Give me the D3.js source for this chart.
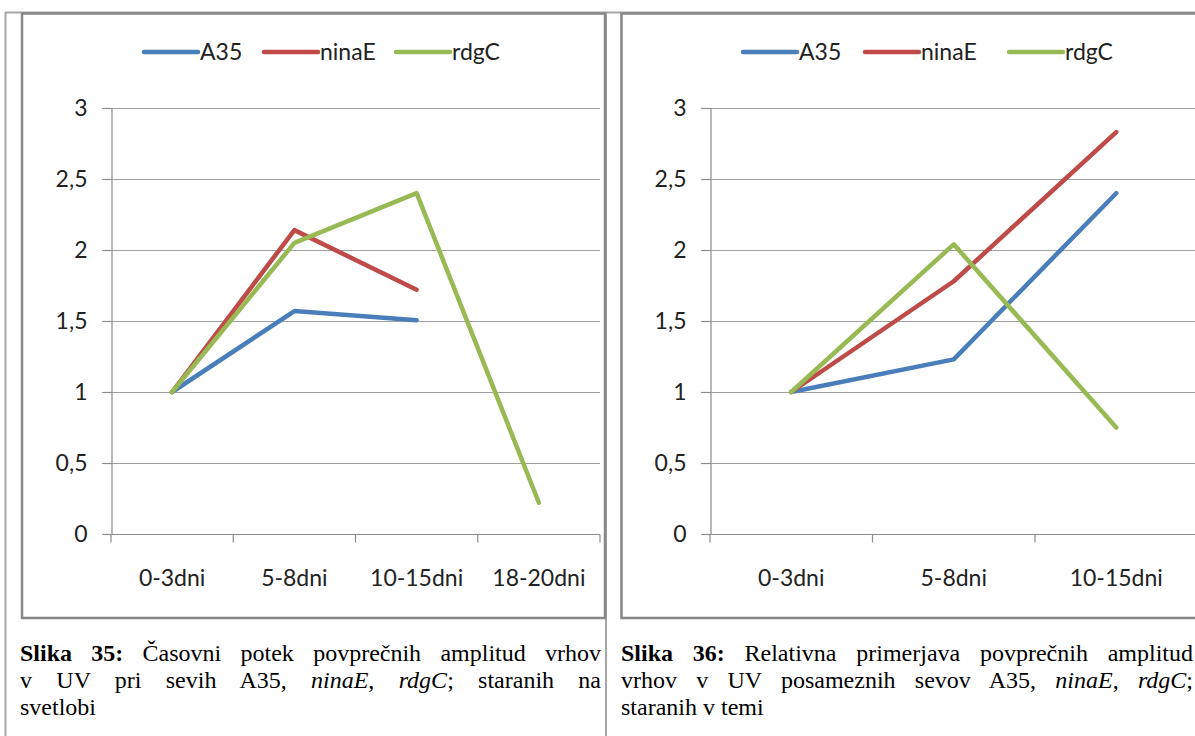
<!DOCTYPE html>
<html>
<head>
<meta charset="utf-8">
<script src="https://cdn.jsdelivr.net/npm/d3@7"></script>
<style>
  html, body { margin: 0; padding: 0; background: #fff; }
  #wrap { position: relative; width: 1195px; height: 736px; overflow: hidden; }
  svg { position: absolute; left: 0; top: 0; }
  .cap { position: absolute; font-family: "Liberation Serif", "Times New Roman", serif;
         font-size: 24px; line-height: 27px; color: #000; }
  .cap div { text-align: justify; text-align-last: justify; white-space: nowrap; }
  .cap div.last { text-align-last: left; }
  .cap b { font-weight: bold; }
</style>
</head>
<body>
<div id="wrap">
  <svg id="chart" width="1195" height="736"></svg>
  <div class="cap" id="cap35" style="left:20px; top:640px; width:581px;">
    <div><b>Slika 35:</b> Časovni potek povprečnih amplitud vrhov</div>
    <div>v UV pri sevih A35, <i>ninaE</i>, <i>rdgC</i>; staranih na</div>
    <div class="last">svetlobi</div>
  </div>
  <div class="cap" id="cap36" style="left:621px; top:640px; width:572px;">
    <div><b>Slika 36:</b> Relativna primerjava povprečnih amplitud</div>
    <div>vrhov v UV posameznih sevov A35, <i>ninaE</i>, <i>rdgC</i>;</div>
    <div class="last">staranih v temi</div>
  </div>
</div>
<script>
// Aging stages (days) and relative UV peak amplitudes per strain
const categoriesLight = ["0-3dni", "5-8dni", "10-15dni", "18-20dni"];
const categoriesDark = ["0-3dni", "5-8dni", "10-15dni"];

const seriesNames = ["A35", "ninaE", "rdgC"];
const seriesColors = ["#4a7ebb", "#be4b48", "#98b954"];

// Slika 35: aged in light
const lightA35 = [1, 1.57, 1.505, null];
const lightNinaE = [1, 2.14, 1.72, null];
const lightRdgC = [1, 2.05, 2.40, 0.22];

// Slika 36: aged in dark
const darkA35 = [1, 1.23, 2.40];
const darkNinaE = [1, 1.78, 2.83];
const darkRdgC = [1, 2.04, 0.75];

const yTicks = [0, 0.5, 1, 1.5, 2, 2.5, 3];
const fmt = v => String(v).replace(".", ",");
const labelFont = "Lato, 'Open Sans', sans-serif";
const labelSize = 23;

const svg = d3.select("#chart");

// Table borders of the surrounding document layout
const frame = svg.append("g");
frame.append("line").attr("x1", 5.5).attr("x2", 5.5).attr("y1", 12).attr("y2", 736)
  .attr("stroke", "#a6a6a6").attr("stroke-width", 2);
frame.append("line").attr("x1", 5).attr("x2", 1195).attr("y1", 12.5).attr("y2", 12.5)
  .attr("stroke", "#a6a6a6").attr("stroke-width", 2);
frame.append("line").attr("x1", 606).attr("x2", 606).attr("y1", 12).attr("y2", 736)
  .attr("stroke", "#a6a6a6").attr("stroke-width", 2);

function drawChart(opts) {
  const g = svg.append("g");
  // chart border
  g.append("rect")
    .attr("x", opts.fx).attr("y", 13.5)
    .attr("width", opts.fw).attr("height", 604.5)
    .attr("fill", "#fff").attr("stroke", "#878787").attr("stroke-width", 2.5);

  const y = d3.scaleLinear().domain([0, 3]).range([534, 108]);
  const band = d3.scaleBand().domain(opts.categories).range([opts.x0, opts.x1]);
  const x = d3.scalePoint().domain(opts.categories).range([opts.x0, opts.x1]).padding(0.5);

  // horizontal gridlines with left tick stubs
  g.append("g").selectAll("line").data(yTicks.filter(t => t > 0)).join("line")
    .attr("x1", opts.x0 - 9).attr("x2", opts.x1)
    .attr("y1", d => Math.round(y(d)) + 0.5).attr("y2", d => Math.round(y(d)) + 0.5)
    .attr("stroke", "#a0a0a0").attr("stroke-width", 1.2);

  // y axis
  const yAxis = d3.axisLeft(y).tickValues(yTicks).tickSize(9).tickPadding(15).tickFormat(fmt);
  const ya = g.append("g").attr("transform", `translate(${opts.x0 + 0.5},0)`).call(yAxis);
  ya.select(".domain").attr("stroke", "#8c8c8c").attr("stroke-width", 1.2);
  ya.selectAll(".tick line").attr("stroke", "#8c8c8c").attr("stroke-width", 1.2);
  ya.selectAll(".tick text").attr("font-family", labelFont)
    .attr("font-size", labelSize).attr("fill", "#222");

  // x axis: line, boundary ticks, category labels
  const yb = Math.round(y(0)) + 0.5;
  g.append("line").attr("x1", opts.x0).attr("x2", opts.x1).attr("y1", yb).attr("y2", yb)
    .attr("stroke", "#8c8c8c").attr("stroke-width", 1.2);
  const bounds = opts.categories.map(c => band(c)).concat([opts.x1]);
  g.append("g").selectAll("line").data(bounds).join("line")
    .attr("x1", d => d).attr("x2", d => d).attr("y1", yb).attr("y2", yb + 8)
    .attr("stroke", "#8c8c8c").attr("stroke-width", 1.2);
  g.append("g").selectAll("text").data(opts.categories).join("text")
    .attr("x", d => x(d)).attr("y", 586)
    .attr("text-anchor", "middle")
    .attr("font-family", labelFont).attr("font-size", labelSize).attr("fill", "#222")
    .text(d => d);

  // series lines
  const line = d3.line()
    .defined(d => d.v !== null)
    .x(d => x(d.c)).y(d => y(d.v));
  opts.series.forEach((s, i) => {
    const pts = opts.categories.map((c, j) => ({ c, v: s[j] }));
    g.append("path").datum(pts)
      .attr("d", line)
      .attr("fill", "none")
      .attr("stroke", seriesColors[i])
      .attr("stroke-width", 4.5)
      .attr("stroke-linecap", "round")
      .attr("stroke-linejoin", "round");
  });

  // legend
  const lg = g.append("g");
  seriesNames.forEach((name, i) => {
    const lx = opts.legendX[i];
    lg.append("line").attr("x1", lx).attr("x2", lx + 54).attr("y1", 52).attr("y2", 52)
      .attr("stroke", seriesColors[i]).attr("stroke-width", 4.5).attr("stroke-linecap", "round");
    lg.append("text").attr("x", lx + 56).attr("y", 60)
      .attr("font-family", labelFont).attr("font-size", labelSize).attr("fill", "#222")
      .text(name);
  });
}

drawChart({
  fx: 22, fw: 583,
  x0: 111, x1: 600,
  categories: categoriesLight,
  series: [lightA35, lightNinaE, lightRdgC],
  legendX: [144, 264, 396]
});

drawChart({
  fx: 621.5, fw: 600,
  x0: 710, x1: 1197.5,
  categories: categoriesDark,
  series: [darkA35, darkNinaE, darkRdgC],
  legendX: [743, 865, 1009]
});
</script>
</body>
</html>
